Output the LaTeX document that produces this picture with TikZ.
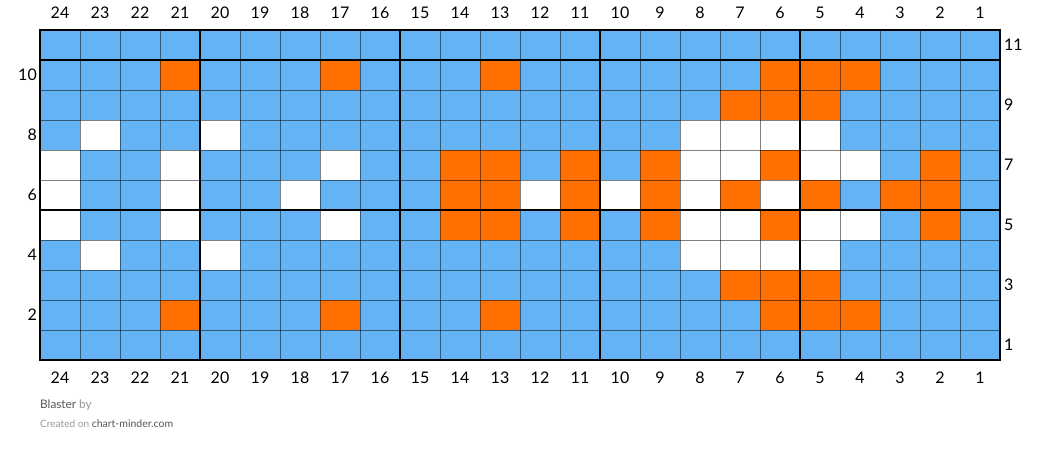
\documentclass[tikz,border=0pt]{standalone}
\usepackage{fontspec}
\setmainfont{Lato}
\definecolor{azul}{HTML}{63B3F5}
\definecolor{naranja}{HTML}{FF7000}
\definecolor{gristexto}{HTML}{555555}
\definecolor{grisclaro}{HTML}{999999}
\tikzset{
  fina/.style={black, opacity=0.5, line width=0.8pt},
  gruesa/.style={black, line width=1.8pt},
  numero/.style={font=\fontsize{16}{19}\selectfont, inner sep=0pt}
}
\begin{document}
\begin{tikzpicture}[x=1pt, y=-1pt]
  \useasboundingbox (0,0) rectangle (1040,453);

  % Fondo azul
  \fill[azul] (40,30) rectangle (1000,360);

  % Puntos naranjas
  \foreach \c/\r in {21/10,17/10,13/10,6/10,5/10,4/10,
                     7/9,6/9,5/9,
                     14/7,13/7,11/7,9/7,6/7,2/7,
                     14/6,13/6,11/6,9/6,7/6,5/6,3/6,2/6,
                     14/5,13/5,11/5,9/5,6/5,2/5,
                     7/3,6/3,5/3,
                     21/2,17/2,13/2,6/2,5/2,4/2}
    \fill[naranja] ({40+(24-\c)*40},{30+(11-\r)*30}) rectangle ++(40,30);

  % Puntos blancos
  \foreach \c/\r in {23/8,20/8,8/8,7/8,6/8,5/8,
                     24/7,21/7,17/7,8/7,7/7,5/7,4/7,
                     24/6,21/6,18/6,12/6,10/6,8/6,6/6,
                     24/5,21/5,17/5,8/5,7/5,5/5,4/5,
                     23/4,20/4,8/4,7/4,6/4,5/4}
    \fill[white] ({40+(24-\c)*40},{30+(11-\r)*30}) rectangle ++(40,30);

  % Cuadrícula fina
  \foreach \i in {1,...,23}
    \draw[fina] ({40+\i*40},30) -- ({40+\i*40},360);
  \foreach \j in {1,...,10}
    \draw[fina] (40,{30+\j*30}) -- (1000,{30+\j*30});

  % Líneas gruesas cada 5
  \foreach \xx in {200,400,600,800}
    \draw[gruesa] (\xx,30) -- (\xx,360);
  \foreach \yy in {60,210}
    \draw[gruesa] (40,\yy) -- (1000,\yy);
  \draw[gruesa] (40,30) rectangle (1000,360);

  % Números de columna
  \foreach \c in {1,...,24} {
    \node[numero] (arriba-\c) at ({60+(24-\c)*40},13) {\c};
    \node[numero] (abajo-\c) at ({60+(24-\c)*40},378) {\c};
  }

  % Números de fila
  \foreach \r in {2,4,...,10}
    \node[numero, anchor=east] (fila-\r) at (37,{45+(11-\r)*30}) {\r};
  \foreach \r in {1,3,...,11}
    \node[numero, anchor=west] (fila-\r) at (1004,{45+(11-\r)*30}) {\r};

  % Pie
  \node[anchor=base west, inner sep=0pt, font=\fontsize{11.8}{14}\selectfont]
    (titulo) at (40,408) {\textcolor{gristexto}{Blaster} \textcolor{grisclaro}{by}};
  \node[anchor=base west, inner sep=0pt]
    (creado) at (40,427) {\fontsize{10.1}{12}\selectfont\textcolor{grisclaro}{Created on}
      \fontsize{10.5}{12}\selectfont\textcolor{gristexto}{chart-minder.com}};
\end{tikzpicture}
\end{document}
